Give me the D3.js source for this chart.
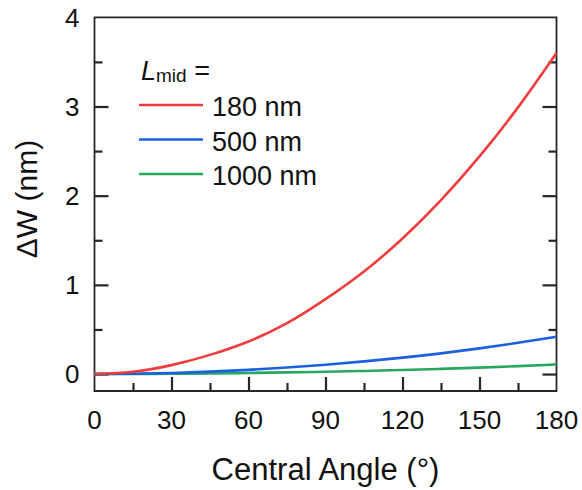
<!DOCTYPE html>
<html><head><meta charset="utf-8">
<script src="https://cdn.jsdelivr.net/npm/d3@7"></script>
<style>html,body{margin:0;padding:0;background:#fff;}svg{display:block;font-family:"Liberation Sans",Arial,sans-serif;}</style>
</head><body>
<script>
const angles = [0, 15, 30, 45, 60, 75, 90, 105, 120, 135, 150, 165, 180];
const w180  = [0, 0.025, 0.10, 0.215, 0.365, 0.57, 0.84, 1.15, 1.52, 1.95, 2.44, 2.99, 3.6];
const w500  = [0, 0.003, 0.012, 0.027, 0.047, 0.073, 0.104, 0.142, 0.184, 0.232, 0.288, 0.35, 0.418];
const w1000 = [0, 0.001, 0.003, 0.007, 0.012, 0.019, 0.026, 0.035, 0.046, 0.058, 0.072, 0.089, 0.108];
const seriesNames = ["180 nm", "500 nm", "1000 nm"];
const seriesColors = ["#f03c3c", "#1a60e0", "#27a860"];
const xTicks = [0, 30, 60, 90, 120, 150, 180];
const xMinor = [15, 45, 75, 105, 135, 165];
const yTicks = [0, 1, 2, 3, 4];
const yMinor = [0.5, 1.5, 2.5, 3.5];

const W = 582, H = 490;
const L = 94.5, R = 556.5, T = 17.3, B = 391;
const svg = d3.select("body").append("svg").attr("width", W).attr("height", H);
const x = d3.scaleLinear().domain([0, 180]).range([L, R]);
const y = d3.scaleLinear().domain([-0.19, 4]).range([B, T]);
const axisColor = "#262626";

// frame
svg.append("path")
  .attr("d", `M${L},${T}H${R}V${B}H${L}Z`)
  .attr("fill", "none").attr("stroke", axisColor).attr("stroke-width", 1.8);

// tick marks (inward), drawn with d3 axis generators
const majorLen = 14, minorLen = 8;
function styleTicks(g) {
  g.select(".domain").remove();
  g.selectAll(".tick line").attr("stroke", axisColor).attr("stroke-width", 2.2);
}
svg.append("g").attr("transform", `translate(0,${B})`)
  .call(d3.axisTop(x).tickValues(xTicks.filter(v => v > 0 && v < 180)).tickSize(majorLen).tickFormat(""))
  .call(styleTicks);
svg.append("g").attr("transform", `translate(0,${B})`)
  .call(d3.axisTop(x).tickValues(xMinor).tickSize(minorLen).tickFormat(""))
  .call(styleTicks);
svg.append("g").attr("transform", `translate(${L},0)`)
  .call(d3.axisRight(y).tickValues(yTicks.filter(v => v < 4)).tickSize(majorLen).tickFormat(""))
  .call(styleTicks);
svg.append("g").attr("transform", `translate(${L},0)`)
  .call(d3.axisRight(y).tickValues(yMinor).tickSize(minorLen).tickFormat(""))
  .call(styleTicks);
svg.append("g").attr("transform", `translate(${R},0)`)
  .call(d3.axisLeft(y).tickValues(yTicks.filter(v => v < 4)).tickSize(majorLen).tickFormat(""))
  .call(styleTicks);
svg.append("g").attr("transform", `translate(${R},0)`)
  .call(d3.axisLeft(y).tickValues(yMinor).tickSize(minorLen).tickFormat(""))
  .call(styleTicks);

// tick labels
svg.append("g").selectAll("text").data(xTicks).join("text")
  .attr("x", d => x(d)).attr("y", B + 38).attr("text-anchor", "middle")
  .attr("fill", "#111").style("font-size", "26px").text(d => d);
svg.append("g").selectAll("text").data(yTicks).join("text")
  .attr("x", L - 15).attr("y", d => y(d)).attr("dy", "0.36em").attr("text-anchor", "end")
  .attr("fill", "#111").style("font-size", "26px").text(d => d);

const series = [w180, w500, w1000];
const line = d3.line().x((d, i) => x(angles[i])).y(d => y(d)).curve(d3.curveNatural);
[2, 1, 0].forEach(i => {
  svg.append("path").datum(series[i]).attr("d", line).attr("fill", "none")
    .attr("stroke", seriesColors[i]).attr("stroke-width", 2.6);
});

// legend
const lg = svg.append("g");
const lt = lg.append("text").attr("x", 141).attr("y", 80).attr("fill", "#111").style("font-size", "27px");
lt.append("tspan").text("L").style("font-style", "italic");
lt.append("tspan").text("mid").style("font-size", "19px").attr("dy", 2);
lt.append("tspan").text(" =").attr("dy", -2);
const legY = [105, 139.5, 174];
seriesNames.forEach((n, i) => {
  lg.append("line").attr("x1", 139).attr("x2", 203).attr("y1", legY[i]).attr("y2", legY[i])
    .attr("stroke", seriesColors[i]).attr("stroke-width", 2.6);
  lg.append("text").attr("x", 212).attr("y", legY[i] + 11).attr("fill", "#111").style("font-size", "27px").text(n);
});

// axis titles
svg.append("text").attr("x", (L + R) / 2).attr("y", 480).attr("text-anchor", "middle")
  .attr("fill", "#111").style("font-size", "31px").text("Central Angle (°)");
svg.append("text").attr("transform", "translate(37,199) rotate(-90)").attr("text-anchor", "middle")
  .attr("fill", "#111").style("font-size", "30px").text("ΔW (nm)");
</script>
</body></html>
